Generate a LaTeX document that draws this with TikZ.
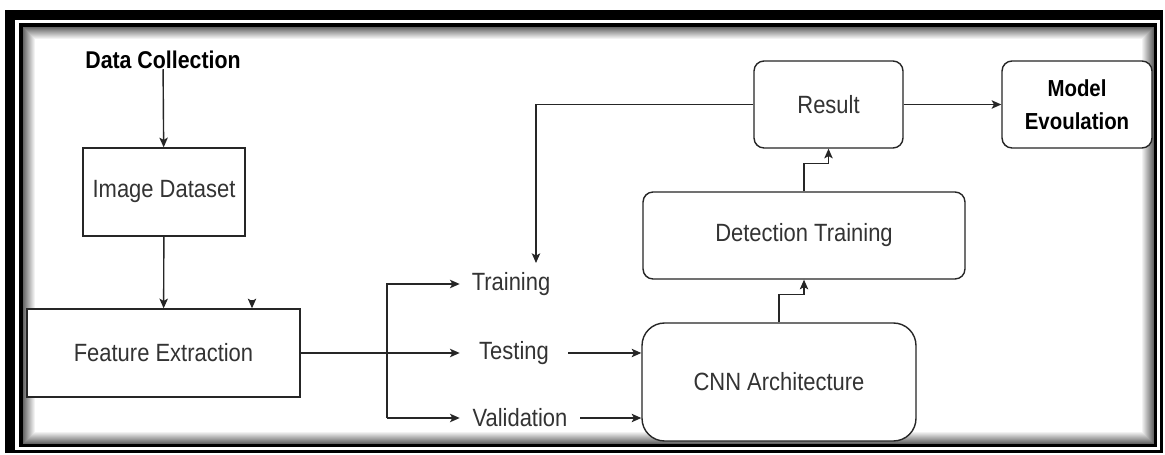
\documentclass[tikz,border=0pt]{standalone}
\usepackage{fontspec}
\setmainfont{Liberation Sans}[FakeStretch=0.88]
\usetikzlibrary{arrows.meta}

\begin{document}
\begin{tikzpicture}[x=0.02cm, y=-0.02cm,
	txt/.style={text=black!80, font=\fontsize{14.2}{17}\selectfont, inner sep=0pt},
	box/.style={txt, draw=black!85, line width=0.8pt, fill=white},
	rbox/.style={box, rounded corners=0.2cm},
	lbl/.style={txt, minimum height=0.5cm},
	arr/.style={draw=black!85, line width=0.8pt, -{Stealth[length=5.5pt, width=4.8pt, inset=1.3pt]}}]
	\useasboundingbox (0,0) rectangle (1165,455);
	%%%%% FRAME %%%%%
	\fill[black] (5,10) rectangle (1163,453);
	\fill[white] (15,20) rectangle (1160,450);
	\fill[black] (19,23) rectangle (1157,447);
	\foreach \i in {0,...,11}{
		\pgfmathtruncatemacro\glow{60-5*\i}
		\fill[black!\glow] ({23+\i},{27+\i}) rectangle ({1154-\i},{444-\i});
	}
	\fill[white] (35,39) rectangle (1142,432);
	
	%%%%% NODES %%%%%
	\node[txt, text=black, font=\bfseries\fontsize{13.8}{17}\selectfont] (dc) at (163,60) {Data Collection};
	\node[box, minimum width=3.24cm, minimum height=1.76cm] (img) at (164,192) {Image Dataset};
	\node[box, minimum width=5.46cm, minimum height=1.76cm] (feat) at (163.5,353) {Feature Extraction};
	
	\node[lbl, minimum width=2.04cm] (train) at (511,284) {Training};
	\node[lbl, minimum width=2.16cm] (test) at (514,353) {Testing};
	\node[lbl, minimum width=2.4cm] (val) at (520,418) {Validation};
	
	\node[box, rounded corners=0.45cm, minimum width=5.48cm, minimum height=2.36cm] (cnn) at (779,382) {CNN Architecture};
	\node[rbox, minimum width=6.44cm, minimum height=1.74cm] (det) at (804,235.5) {Detection Training};
	\node[rbox, minimum width=2.98cm, minimum height=1.74cm] (res) at (828.5,104.5) {Result};
	\node[rbox, text=black, align=center, font=\bfseries\fontsize{13.2}{18.7}\selectfont, minimum width=3cm, minimum height=1.74cm] (model) at (1077,104.5) {Model\\Evoulation};
	
	\coordinate (fork) at (387,418);
	\coordinate (stray) at (252,300);
	\coordinate (back) at (536,263);
	
	%%%%% CONNECTORS %%%%%
	\draw[arr] (dc) -- (img);
	\draw[arr] (img) -- (feat);
	\draw[arr] (stray) -- (stray |- feat.north);
	\draw[arr] (feat) -- (test);
	\draw[arr] (fork) |- (train);
	\draw[arr] (fork) -- (val);
	\draw[arr] (test) -- (test -| cnn.west);
	\draw[arr] (val) -- (val -| cnn.west);
	\draw[arr] (cnn.north) -- ++(0,-28) -| (det.south);
	\draw[arr] (det.north) -- ++(0,-28) -| (res.south);
	\draw[arr] (res) -- (model);
	\draw[arr] (res.west) -| (back);
\end{tikzpicture}
\end{document}
